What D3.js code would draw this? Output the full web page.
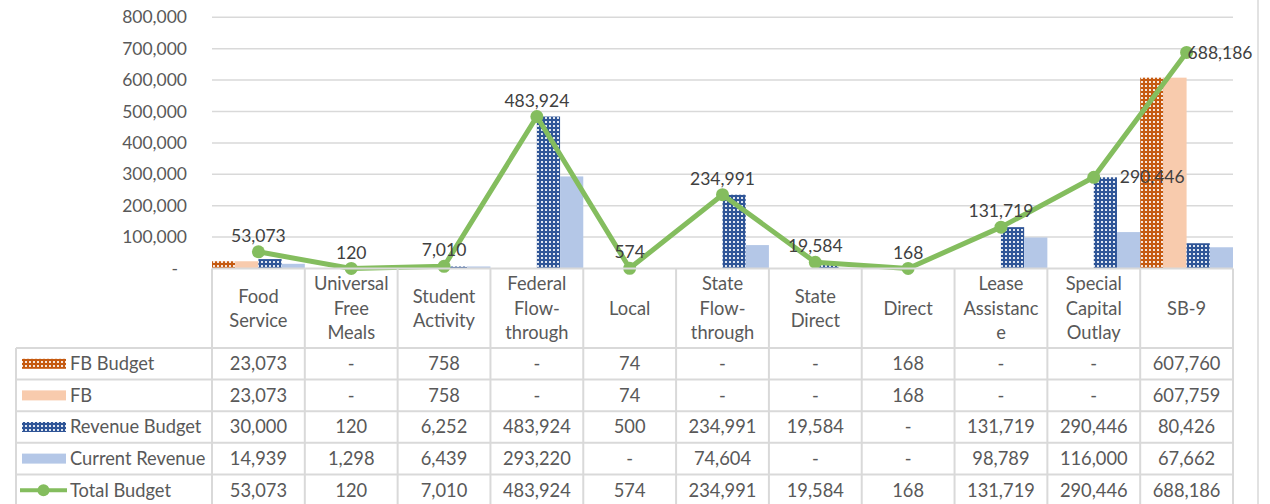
<!DOCTYPE html>
<html>
<head>
<meta charset="utf-8">
<script src="https://cdn.jsdelivr.net/npm/d3@7/dist/d3.min.js"></script>
<style>
	body { margin: 0; background: #fff; }
	svg { display: block; font-family: Lato, "Open Sans", sans-serif; }
</style>
</head>
<body>
<svg id="chart" width="1270" height="504"></svg>
<script>
// categories, with line breaks the way the table header wraps them
const categories = ["Food Service", "Universal Free Meals", "Student Activity", "Federal Flow-through", "Local",
	"State Flow-through", "State Direct", "Direct", "Lease Assistance", "Special Capital Outlay", "SB-9"];
const headerLines = [["Food", "Service"], ["Universal", "Free", "Meals"], ["Student", "Activity"], ["Federal", "Flow-", "through"],
	["Local"], ["State", "Flow-", "through"], ["State", "Direct"], ["Direct"], ["Lease", "Assistanc", "e"],
	["Special", "Capital", "Outlay"], ["SB-9"]];

const fbBudget = [23073, null, 758, null, 74, null, null, 168, null, null, 607760];
const fb = [23073, null, 758, null, 74, null, null, 168, null, null, 607759];
const revenueBudget = [30000, 120, 6252, 483924, 500, 234991, 19584, null, 131719, 290446, 80426];
const currentRevenue = [14939, 1298, 6439, 293220, null, 74604, null, null, 98789, 116000, 67662];
const totalBudget = [53073, 120, 7010, 483924, 574, 234991, 19584, 168, 131719, 290446, 688186];

const yTicks = [0, 100000, 200000, 300000, 400000, 500000, 600000, 700000, 800000];

const barSeries = [
	{ name: "FB Budget", values: fbBudget, color: "#C55A11", dotted: true },
	{ name: "FB", values: fb, color: "#F8CBAD", dotted: false },
	{ name: "Revenue Budget", values: revenueBudget, color: "#2F5597", dotted: true },
	{ name: "Current Revenue", values: currentRevenue, color: "#B4C7E7", dotted: false },
];
const lineColor = "#84BD5E";

const svg = d3.select("#chart");
const fmt = d3.format(",");

// dotted fill like Excel's pattern fill
let defs = svg.append("defs");
barSeries.filter(s => s.dotted).forEach((s, i) => {
	let p = defs.append("pattern")
		.attr("id", "dots" + i)
		.attr("width", 4).attr("height", 4)
		.attr("patternUnits", "userSpaceOnUse");
	p.append("rect").attr("width", 4).attr("height", 4).attr("fill", s.color);
	p.append("rect").attr("x", 1).attr("y", 1).attr("width", 2).attr("height", 2).attr("fill", "#fff").attr("opacity", 0.85);
	s.fill = "url(#dots" + i + ")";
});
barSeries.forEach(s => { if (!s.fill) s.fill = s.color; });

const x = d3.scaleBand().domain(categories).range([212, 1233]).padding(0);
const xInner = d3.scaleBand().domain(barSeries.map(s => s.name)).range([0, x.bandwidth()]).padding(0);
const y = d3.scaleLinear().domain([0, 800000]).range([268.5, 17.3]);

// right border
svg.append("line")
	.attr("x1", 1258).attr("x2", 1258).attr("y1", 0).attr("y2", 504)
	.attr("stroke", "#d9d9d9").attr("stroke-width", 1.5);

// gridlines
svg.append("g")
	.selectAll("line")
	.data(yTicks.filter(d => d > 0))
	.join("line")
	.attr("x1", x.range()[0]).attr("x2", x.range()[1])
	.attr("y1", d => y(d)).attr("y2", d => y(d))
	.attr("stroke", "#d9d9d9").attr("stroke-width", 1.5);

// y axis
let yAxis = svg.append("g")
	.attr("transform", `translate(${x.range()[0]},0)`)
	.call(d3.axisLeft(y).tickValues(yTicks).tickSize(0).tickPadding(25)
		.tickFormat(d => d == 0 ? "-" : fmt(d)));
yAxis.select(".domain").remove();
yAxis.selectAll("text")
	.attr("fill", "#595959")
	.attr("font-family", "Lato")
	.attr("font-size", 17.5)
	.attr("dx", d => d == 0 ? -9 : 0);

// bars
barSeries.forEach(s => {
	svg.append("g")
		.selectAll("rect")
		.data(s.values.map((v, i) => ({ v, c: categories[i] })).filter(d => d.v != null))
		.join("rect")
		.attr("x", d => x(d.c) + xInner(s.name))
		.attr("width", xInner.bandwidth())
		.attr("y", d => y(d.v))
		.attr("height", d => y(0) - y(d.v))
		.attr("fill", s.fill);
});

// total budget line
let points = totalBudget.map((v, i) => ({ v, c: categories[i], i }));
let cx = d => x(d.c) + x.bandwidth() / 2;
svg.append("path")
	.datum(points)
	.attr("fill", "none")
	.attr("stroke", lineColor)
	.attr("stroke-width", 5)
	.attr("stroke-linejoin", "round")
	.attr("d", d3.line().x(cx).y(d => y(d.v)));
svg.append("g")
	.selectAll("circle")
	.data(points)
	.join("circle")
	.attr("cx", cx).attr("cy", d => y(d.v))
	.attr("r", 6.5)
	.attr("fill", lineColor);

// data labels: above the point, the last two sit to the right
const rightLabels = { 9: 26, 10: 1 };
svg.append("g")
	.selectAll("text")
	.data(points)
	.join("text")
	.attr("x", d => d.i in rightLabels ? cx(d) + rightLabels[d.i] : cx(d))
	.attr("y", d => d.i in rightLabels ? y(d.v) : y(d.v) - 16)
	.attr("dy", "0.35em")
	.attr("text-anchor", d => d.i in rightLabels ? "start" : "middle")
	.attr("fill", "#404040")
	.attr("font-size", 17.5)
	.text(d => fmt(d.v));

// data table
const tableLeft = 16;
const headerTop = y(0);
const headerBottom = 348;
const rowH = 31.6;
const tableFont = 18.3;
const rows = barSeries.map(s => ({ name: s.name, values: s.values, key: "bar", s }))
	.concat([{ name: "Total Budget", values: totalBudget, key: "line" }]);

let table = svg.append("g");
let gridColor = "#d9d9d9";

// vertical lines
let vx = categories.map(c => x(c)).concat([x.range()[1]]);
table.selectAll("line.v")
	.data(vx)
	.join("line")
	.attr("x1", d => d).attr("x2", d => d)
	.attr("y1", headerTop).attr("y2", 504)
	.attr("stroke", gridColor).attr("stroke-width", 2);
table.append("line")
	.attr("x1", tableLeft).attr("x2", tableLeft)
	.attr("y1", headerBottom).attr("y2", 504)
	.attr("stroke", gridColor).attr("stroke-width", 2);

// horizontal lines
table.append("line")
	.attr("x1", x.range()[0]).attr("x2", x.range()[1])
	.attr("y1", headerTop).attr("y2", headerTop)
	.attr("stroke", gridColor).attr("stroke-width", 2);
table.selectAll("line.h")
	.data(d3.range(rows.length))
	.join("line")
	.attr("x1", tableLeft).attr("x2", x.range()[1])
	.attr("y1", i => headerBottom + i * rowH).attr("y2", i => headerBottom + i * rowH)
	.attr("stroke", gridColor).attr("stroke-width", 2);

// header labels
categories.forEach((c, i) => {
	let lines = headerLines[i];
	let mid = (headerTop + headerBottom) / 2;
	let t = table.append("text")
		.attr("text-anchor", "middle")
		.attr("fill", "#595959")
		.attr("font-size", tableFont);
	lines.forEach((l, j) => {
		t.append("tspan")
			.attr("x", x(c) + x.bandwidth() / 2)
			.attr("y", mid + (j - (lines.length - 1) / 2) * 24.3)
			.attr("dy", "0.35em")
			.text(l);
	});
});

// rows
rows.forEach((r, i) => {
	let cy = headerBottom + i * rowH + rowH / 2;
	if (r.key == "bar") {
		table.append("rect")
			.attr("x", 22).attr("y", cy - 5)
			.attr("width", 44).attr("height", 10)
			.attr("fill", r.s.fill);
	} else {
		table.append("line")
			.attr("x1", 20).attr("x2", 67).attr("y1", cy).attr("y2", cy)
			.attr("stroke", lineColor).attr("stroke-width", 4);
		table.append("circle")
			.attr("cx", 43.5).attr("cy", cy).attr("r", 6)
			.attr("fill", lineColor);
	}
	table.append("text")
		.attr("x", 70).attr("y", cy).attr("dy", "0.35em")
		.attr("fill", "#595959")
		.attr("font-size", tableFont)
		.text(r.name);
	table.append("g")
		.selectAll("text")
		.data(r.values)
		.join("text")
		.attr("x", (v, j) => x(categories[j]) + x.bandwidth() / 2)
		.attr("y", cy).attr("dy", "0.35em")
		.attr("text-anchor", "middle")
		.attr("fill", "#595959")
		.attr("font-size", tableFont)
		.text(v => v == null ? "-" : fmt(v));
});
</script>
</body>
</html>
